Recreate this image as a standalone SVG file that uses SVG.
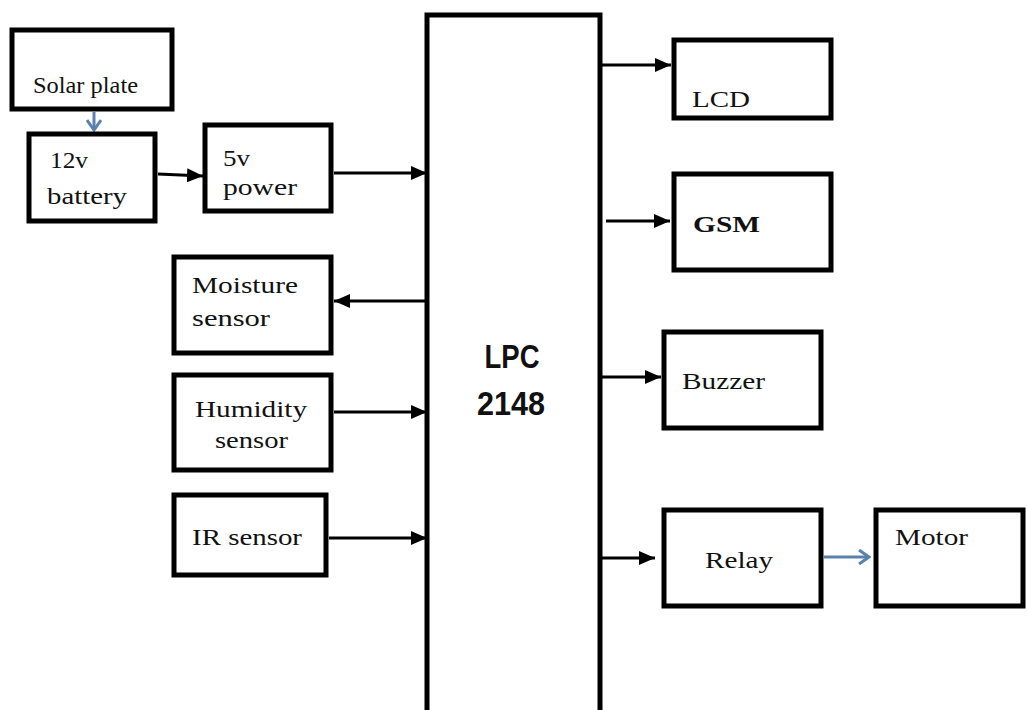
<svg xmlns="http://www.w3.org/2000/svg" width="1027" height="710" viewBox="0 0 1027 710">
<style>
.box{fill:#fff;stroke:#000;stroke-width:5}
.t{font-family:"Liberation Serif","Times New Roman",serif;font-size:24px;fill:#111}
.b{font-family:"Liberation Sans",Arial,sans-serif;font-weight:bold;font-size:34px;fill:#111}
.c{stroke:#000;stroke-width:3;fill:none}
.bl{stroke:#5a82ad;stroke-width:3;fill:none}
</style>
<defs>
<marker id="ah" markerUnits="userSpaceOnUse" markerWidth="16" markerHeight="14" refX="16" refY="7" orient="auto">
<path d="M0,0 L16,7 L0,14 Z" fill="#000"/>
</marker>
<marker id="bh" markerUnits="userSpaceOnUse" markerWidth="14" markerHeight="16" refX="12" refY="8" orient="auto">
<path d="M2,1 L12,8 L2,15" fill="none" stroke="#5a82ad" stroke-width="3"/>
</marker>
</defs>
<rect width="1027" height="710" fill="#fff"/>
<g id="connectors">
<line class="bl" x1="94" y1="112" x2="94" y2="130" marker-end="url(#bh)"/>
<line class="c" x1="158" y1="174" x2="203" y2="176" marker-end="url(#ah)"/>
<line class="c" x1="334" y1="173" x2="427" y2="173" marker-end="url(#ah)"/>
<line class="c" x1="427" y1="301" x2="334" y2="301" marker-end="url(#ah)"/>
<line class="c" x1="334" y1="412" x2="427" y2="412" marker-end="url(#ah)"/>
<line class="c" x1="329" y1="538" x2="427" y2="538" marker-end="url(#ah)"/>
<line class="c" x1="602" y1="65" x2="671" y2="65" marker-end="url(#ah)"/>
<line class="c" x1="606" y1="221" x2="670" y2="221" marker-end="url(#ah)"/>
<line class="c" x1="602" y1="377" x2="661" y2="377" marker-end="url(#ah)"/>
<line class="c" x1="602" y1="558" x2="655" y2="558" marker-end="url(#ah)"/>
<line class="bl" x1="824" y1="557" x2="869" y2="557" marker-end="url(#bh)"/>
</g>
<g id="lpc">
<rect class="box" x="427" y="15" width="173" height="710"/>
<text class="b" x="512" y="368" text-anchor="middle" textLength="55" lengthAdjust="spacingAndGlyphs">LPC</text>
<text class="b" x="511" y="415" text-anchor="middle" textLength="68" lengthAdjust="spacingAndGlyphs">2148</text>
</g>
<g id="solar">
<rect class="box" x="12" y="30" width="160" height="79"/>
<text class="t" x="33" y="93" font-size="21" textLength="105" lengthAdjust="spacingAndGlyphs">Solar plate</text>
</g>
<g id="battery">
<rect class="box" x="29" y="134" width="126" height="87"/>
<text class="t" x="50" y="168" textLength="38" lengthAdjust="spacingAndGlyphs">12v</text>
<text class="t" x="47" y="204" textLength="80" lengthAdjust="spacingAndGlyphs">battery</text>
</g>
<g id="power5v">
<rect class="box" x="205" y="125" width="126" height="86"/>
<text class="t" x="223" y="166" textLength="27" lengthAdjust="spacingAndGlyphs">5v</text>
<text class="t" x="223" y="195" textLength="74" lengthAdjust="spacingAndGlyphs">power</text>
</g>
<g id="moisture">
<rect class="box" x="174" y="257" width="157" height="96"/>
<text class="t" x="192" y="293" font-size="25" textLength="106" lengthAdjust="spacingAndGlyphs">Moisture</text>
<text class="t" x="192" y="326" font-size="25" textLength="78" lengthAdjust="spacingAndGlyphs">sensor</text>
</g>
<g id="humidity">
<rect class="box" x="174" y="375" width="157" height="95"/>
<text class="t" x="195" y="417" font-size="25" textLength="112" lengthAdjust="spacingAndGlyphs">Humidity</text>
<text class="t" x="215" y="448" font-size="25" textLength="73" lengthAdjust="spacingAndGlyphs">sensor</text>
</g>
<g id="ir">
<rect class="box" x="174" y="495" width="152" height="80"/>
<text class="t" x="192" y="545" font-size="25" textLength="110" lengthAdjust="spacingAndGlyphs">IR sensor</text>
</g>
<g id="lcd">
<rect class="box" x="674" y="40" width="157" height="78"/>
<text class="t" x="692" y="107" font-size="26" textLength="58" lengthAdjust="spacingAndGlyphs">LCD</text>
</g>
<g id="gsm">
<rect class="box" x="674" y="174" width="157" height="96"/>
<text class="t" x="693" y="232" font-size="25" font-weight="bold" textLength="67" lengthAdjust="spacingAndGlyphs">GSM</text>
</g>
<g id="buzzer">
<rect class="box" x="664" y="332" width="157" height="96"/>
<text class="t" x="682" y="389" font-size="26" textLength="83" lengthAdjust="spacingAndGlyphs">Buzzer</text>
</g>
<g id="relay">
<rect class="box" x="664" y="510" width="157" height="96"/>
<text class="t" x="705" y="568" font-size="26" textLength="68" lengthAdjust="spacingAndGlyphs">Relay</text>
</g>
<g id="motor">
<rect class="box" x="876" y="510" width="147" height="96"/>
<text class="t" x="895" y="545" font-size="26" textLength="73" lengthAdjust="spacingAndGlyphs">Motor</text>
</g>
</svg>
